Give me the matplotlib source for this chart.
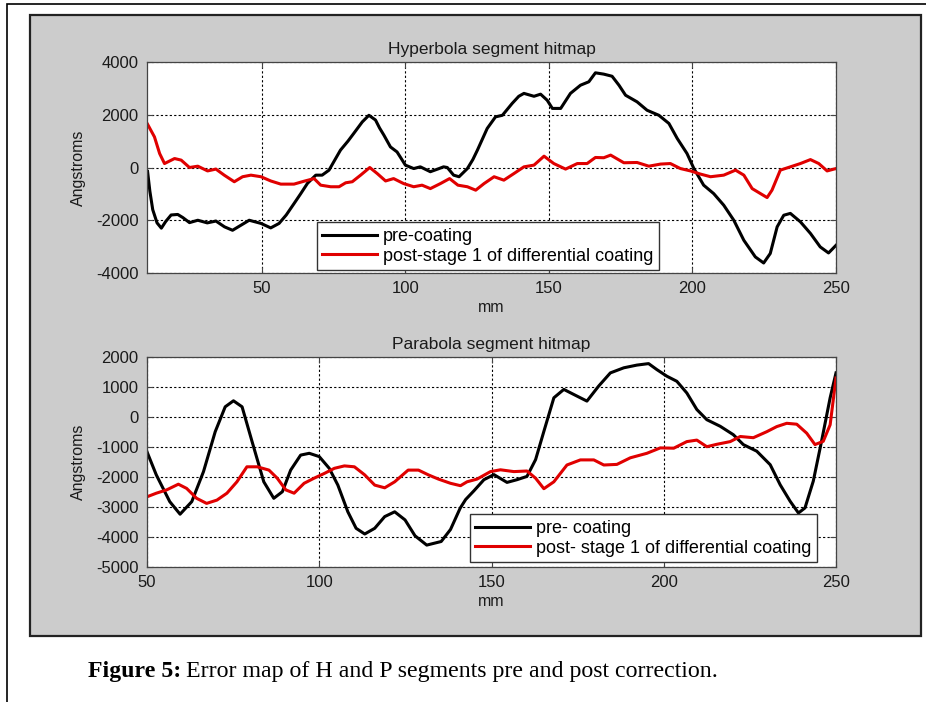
import matplotlib
matplotlib.use("Agg")
import matplotlib.pyplot as plt
from matplotlib.patches import Rectangle

plt.rcParams['font.family'] = ['Liberation Sans', 'DejaVu Sans']
plt.rcParams['axes.unicode_minus'] = False

# Hyperbola segment: surface error (Angstroms) along the segment (mm)
hyp_pre_x = [10.2, 11, 12, 13.5, 15, 16.5, 18.4, 20.7, 22.5, 24.8, 27.7, 31, 34, 37, 39.8, 42.7,
             45.6, 49.7, 53.1, 56, 58.5, 61.2, 63.5, 65.9, 68.8, 71, 73.4, 75.5, 77.4, 80, 82, 85,
             87.3, 89.6, 91, 92.5, 94.8, 97.1, 98.5, 100, 102.9, 105.2, 108.7, 111.5, 113.3, 114.6,
             116.8, 118.7, 121.6, 123.5, 125.1, 128.5, 131.4, 133.8, 137.2, 139.5, 141.3, 144.8,
             147.1, 149.4, 151.2, 154.1, 157.5, 161, 163.9, 166.2, 169.1, 172, 174.4, 176.7, 180.7,
             184.2, 188.3, 191.8, 194.7, 198.1, 200.5, 203.9, 207.4, 210.9, 214.4, 217.9, 221.9,
             224.8, 227.1, 229.5, 231.8, 234.1, 237.6, 241.1, 244.5, 247.4, 250]
hyp_pre_y = [-150, -900, -1600, -2100, -2300, -2050, -1800, -1780, -1900, -2090, -2000, -2100, -2030,
             -2250, -2380, -2190, -2000, -2120, -2290, -2120, -1800, -1370, -1000, -600, -290, -290,
             -100, 300, 660, 1000, 1290, 1730, 1980, 1800, 1500, 1230, 780, 590, 350, 90, -40, 25,
             -160, -50, 25, 0, -290, -350, -40, 300, 660, 1480, 1920, 1980, 2430, 2700, 2810, 2700,
             2780, 2550, 2240, 2240, 2810, 3120, 3250, 3590, 3540, 3460, 3120, 2740, 2490, 2170,
             1980, 1670, 1100, 530, -40, -670, -990, -1430, -2000, -2760, -3390, -3620, -3260,
             -2250, -1810, -1740, -2060, -2500, -3010, -3240, -2950]

hyp_post_x = [10.2, 12.6, 14.4, 16.1, 19.6, 21.9, 24.8, 27.7, 31.1, 34, 36.9, 40.4, 43.3, 46.2, 49.7,
              53.1, 56.6, 61.2, 64.7, 68.2, 70.5, 74, 76.9, 79.2, 81.5, 84.4, 87.6, 90.2, 93.1, 95.9,
              99.4, 102.9, 105.8, 108.7, 112.2, 115.4, 118.3, 121.6, 124.5, 127.4, 130.9, 134.3,
              137.8, 141.3, 144.8, 148.3, 151.7, 155.8, 159.9, 163.3, 166.2, 169.1, 171.5, 176.1,
              180.7, 184.8, 188.9, 192.3, 195.8, 199.3, 202.8, 206.3, 210.9, 215, 217.9, 220.8,
              223.7, 226, 227.7, 230.6, 234.1, 237.6, 241.1, 244, 246.9, 250]
hyp_post_y = [1640, 1160, 530, 150, 340, 280, 0, 50, -130, -60, -290, -540, -350, -290, -350, -510,
              -630, -630, -520, -420, -670, -730, -730, -580, -540, -290, 0, -230, -510, -420, -610,
              -730, -670, -800, -610, -420, -670, -730, -860, -610, -350, -480, -230, 25, 90, 430,
              150, -60, 150, 150, 380, 370, 470, 180, 190, 50, 130, 150, -40, -130, -250, -350, -290,
              -100, -290, -800, -990, -1140, -860, -100, 25, 150, 300, 150, -130, -40]

# Parabola segment
par_pre_x = [50, 52.7, 56.6, 59.6, 63, 66.4, 69.8, 72.7, 75.1, 77.6, 80.5, 83.9, 86.8, 89.3, 91.7,
             94.6, 97.1, 100, 102.9, 105.4, 108.3, 110.7, 113.2, 116.1, 119, 121.9, 124.9, 127.8,
             131.2, 135.4, 138.1, 140.9, 142.5, 144.9, 147.8, 150.7, 154.5, 157.4, 160.3, 162.8,
             165.2, 168.1, 171, 173.9, 177.7, 181.1, 184.5, 188.4, 192.2, 195.6, 198, 200.9, 203.8,
             206.7, 209.6, 212.5, 216.4, 220.2, 223.1, 227, 230.9, 233.8, 236.7, 239.1, 241, 243.4,
             245.8, 248.3, 250]
par_pre_y = [-1160, -1930, -2820, -3240, -2820, -1820, -490, 340, 540, 340, -820, -2160, -2710, -2490,
             -1770, -1270, -1210, -1320, -1710, -2270, -3160, -3710, -3900, -3710, -3320, -3160,
             -3430, -3960, -4270, -4150, -3750, -3040, -2750, -2460, -2090, -1920, -2180, -2090,
             -1980, -1420, -480, 640, 920, 750, 530, 1030, 1470, 1640, 1730, 1780, 1580, 1360, 1190,
             800, 250, -90, -310, -590, -920, -1140, -1590, -2260, -2810, -3200, -3030, -2140, -810,
             640, 1470]

par_post_x = [50, 52.7, 55.7, 59.1, 61.5, 64.4, 67.3, 70.3, 73.2, 76.1, 79, 82, 85.4, 87.8, 90.3,
              92.7, 95.6, 98.5, 101.5, 104.4, 107.3, 110.2, 113.2, 116.1, 119, 121.9, 125.8, 128.8,
              131.7, 134.6, 138.1, 141, 142.9, 145.8, 149.7, 152.6, 156.5, 160.3, 162.8, 165.2,
              168.1, 171.9, 175.8, 179.7, 182.6, 186.4, 190.3, 195.1, 199, 202.9, 206.7, 209.6,
              212.5, 215.4, 219.3, 222.2, 226, 229.9, 232.8, 235.7, 238.6, 241.5, 243.9, 246.3,
              248.3, 250]
par_post_y = [-2660, -2540, -2430, -2240, -2380, -2710, -2880, -2770, -2540, -2160, -1660, -1660,
              -1770, -2040, -2430, -2540, -2210, -2040, -1880, -1710, -1630, -1660, -1930, -2270,
              -2360, -2160, -1770, -1770, -1930, -2070, -2210, -2290, -2160, -2070, -1820, -1760,
              -1820, -1800, -2040, -2390, -2160, -1600, -1430, -1430, -1600, -1580, -1360, -1210,
              -1030, -1040, -820, -770, -990, -910, -820, -650, -690, -490, -320, -210, -240, -540,
              -920, -810, -260, 1300]

W, H = 926, 702
fig = plt.figure(figsize=(W / 100, H / 100), dpi=100)
fig.patch.set_facecolor('white')


def fx(px):
    return px / W


def fy(py):
    return 1 - py / H


# page frame and gray figure panel, kept behind the axes
fig.patches.append(Rectangle((fx(7), -0.1), 1.2, fy(4) + 0.1, transform=fig.transFigure,
                             facecolor='none', edgecolor='black', lw=1.2, zorder=-2))
fig.patches.append(Rectangle((fx(30), fy(636)), fx(921) - fx(30), fy(15) - fy(636),
                             transform=fig.transFigure, facecolor='#cccccc',
                             edgecolor='#222222', lw=1.6, zorder=-1))

text_col = '#1a1a1a'
grid_kw = dict(color='black', linestyle=(0, (2, 2)), linewidth=0.8)
leg_kw = dict(bbox_transform=fig.transFigure, loc='lower left', borderaxespad=0, fontsize=13,
              handlelength=3.0, handletextpad=0.35, borderpad=0.3, labelspacing=0.15,
              fancybox=False, framealpha=1, edgecolor='#333333')


def setup(ax, xlim, ylim, xticks, yticks, title):
    ax.set_facecolor('white')
    ax.set_xlim(*xlim)
    ax.set_ylim(*ylim)
    ax.set_xticks(xticks)
    ax.set_yticks(yticks)
    ax.grid(True, **grid_kw)
    ax.tick_params(direction='in', length=4, width=0.8, labelsize=12, colors='#444444',
                   labelcolor=text_col, pad=6, top=True, right=True)
    for s in ax.spines.values():
        s.set_color('#444444')
        s.set_linewidth(0.9)
    ax.set_title(title, fontsize=12.5, color=text_col, pad=6)
    ax.set_xlabel('mm', fontsize=11.5, color=text_col, labelpad=3)
    ax.set_ylabel('Angstroms', fontsize=11.5, color=text_col, labelpad=7)


ax1 = fig.add_axes([fx(147), fy(273), fx(836) - fx(147), fy(62) - fy(273)])
setup(ax1, (10, 250), (-4000, 4000), [50, 100, 150, 200, 250],
      [-4000, -2000, 0, 2000, 4000], 'Hyperbola segment hitmap')
ax1.plot(hyp_pre_x, hyp_pre_y, color='black', lw=2.2, label='pre-coating')
ax1.plot(hyp_post_x, hyp_post_y, color='#e00000', lw=2.2,
         label='post-stage 1 of differential coating')
leg1 = ax1.legend(bbox_to_anchor=(fx(317), fy(270)), **leg_kw)
leg1.get_frame().set_linewidth(1.0)

ax2 = fig.add_axes([fx(147), fy(567), fx(836) - fx(147), fy(357) - fy(567)])
setup(ax2, (50, 250), (-5000, 2000), [50, 100, 150, 200, 250],
      list(range(-5000, 2001, 1000)), 'Parabola segment hitmap')
ax2.plot(par_pre_x, par_pre_y, color='black', lw=2.2, label='pre- coating')
ax2.plot(par_post_x, par_post_y, color='#e00000', lw=2.2,
         label='post- stage 1 of differential coating')
leg2 = ax2.legend(bbox_to_anchor=(fx(470), fy(562)), **leg_kw)
leg2.get_frame().set_linewidth(1.0)

# caption below the panel: bold label followed by plain text
cap_y = fy(672)
t1 = fig.text(fx(88), cap_y, 'Figure 5:', fontsize=17.2, fontweight='bold',
              family='Liberation Serif', va='center', ha='left')
fig.canvas.draw()
bb = t1.get_window_extent()
fig.text(bb.x1 / W + fx(5), cap_y, 'Error map of H and P segments pre and post correction.',
         fontsize=17.2, family='Liberation Serif', va='center', ha='left')

fig.savefig('out.png', dpi=100)
